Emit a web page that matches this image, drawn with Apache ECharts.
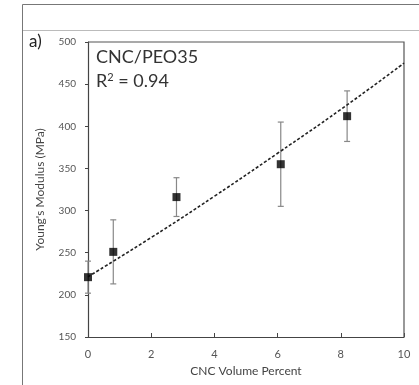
<!DOCTYPE html>
<html>
<head>
<meta charset="utf-8">
<script src="https://cdn.jsdelivr.net/npm/echarts@6/dist/echarts.min.js"></script>
<style>
html,body{margin:0;padding:0;background:#fff;}
#c{width:419px;height:385px;}
</style>
</head>
<body>
<div id="c"></div>
<script>
// Data
const xValues = [0, 0.8, 2.8, 6.1, 8.2];
const yValues = [221, 251, 316, 355, 412];
const yErrors = [19, 38, 23, 50, 30];
const trendX = [0, 2, 4, 6, 8, 10];
const trendY = [221.5, 268, 317, 368, 420, 475];
const xTicks = [0, 2, 4, 6, 8, 10];
const yTicks = [150, 200, 250, 300, 350, 400, 450, 500];

const chart = echarts.init(document.getElementById('c'), null, {renderer: 'canvas'});
const font = 'Lato, "Open Sans", sans-serif';

const errData = xValues.map((x, i) => [x, yValues[i] - yErrors[i], yValues[i] + yErrors[i]]);

chart.setOption({
  animation: false,
  backgroundColor: '#fff',
  grid: {left: 88, top: 42, width: 316, height: 295, show: false},
  graphic: [
    {type: 'line', shape: {x1: 22.5, y1: 4.5, x2: 419, y2: 4.5}, style: {stroke: '#777', lineWidth: 1}},
    {type: 'line', shape: {x1: 22.5, y1: 4.5, x2: 22.5, y2: 385}, style: {stroke: '#777', lineWidth: 1}},
    {type: 'line', shape: {x1: 23, y1: 30.5, x2: 419, y2: 30.5}, style: {stroke: '#bbb', lineWidth: 1}},
    {type: 'text', left: 29, top: 33, style: {text: 'a)', font: '17px ' + font, fill: '#222'}},
    {type: 'text', left: 96, top: 48, style: {text: 'CNC/PEO35', font: '18px ' + font, fill: '#333'}},
    {type: 'text', left: 96, top: 72, style: {rich: {
        n: {font: '18px ' + font, fill: '#333'},
        s: {font: '11px ' + font, fill: '#333', verticalAlign: 'top', padding: [0,0,8,0]}
      }, text: '{n|R}{s|2}{n| = 0.94}'}}
  ],
  xAxis: {
    type: 'value', min: 0, max: 10, interval: 2,
    name: 'CNC Volume Percent', nameLocation: 'middle', nameGap: 26,
    nameTextStyle: {color: '#444', fontSize: 12, fontFamily: font},
    axisLine: {show: true, lineStyle: {color: '#444', width: 1.2}},
    axisTick: {show: true, inside: true, length: 4, lineStyle: {color: '#444'}},
    axisLabel: {color: '#555', fontSize: 11, fontFamily: font, margin: 12},
    splitLine: {show: false}
  },
  yAxis: {
    type: 'value', min: 150, max: 500, interval: 50,
    name: "Young's Modulus (MPa)", nameLocation: 'middle', nameGap: 42,
    nameTextStyle: {color: '#444', fontSize: 12, fontFamily: font},
    axisLine: {show: true, lineStyle: {color: '#444', width: 1.2}},
    axisTick: {show: true, inside: false, length: 3, lineStyle: {color: '#444'}},
    axisLabel: {color: '#555', fontSize: 10, fontFamily: font, margin: 12},
    splitLine: {show: false}
  },
  series: [
    {
      type: 'line', data: trendX.map((x, i) => [x, trendY[i]]), smooth: true,
      showSymbol: false, symbol: 'none', z: 3,
      lineStyle: {color: '#222', width: 1.6, type: [3, 2]}
    },
    {
      type: 'custom', z: 2,
      renderItem: function (params, api) {
        const x = api.value(0);
        const lo = api.coord([x, api.value(1)]);
        const hi = api.coord([x, api.value(2)]);
        const c = 3;
        const st = {stroke: '#888', lineWidth: 1.2};
        return {type: 'group', children: [
          {type: 'line', shape: {x1: lo[0], y1: lo[1], x2: hi[0], y2: hi[1]}, style: st},
          {type: 'line', shape: {x1: lo[0]-c, y1: lo[1], x2: lo[0]+c, y2: lo[1]}, style: st},
          {type: 'line', shape: {x1: hi[0]-c, y1: hi[1], x2: hi[0]+c, y2: hi[1]}, style: st}
        ]};
      },
      encode: {x: 0, y: [1, 2]},
      data: errData
    },
    {
      type: 'scatter', z: 4,
      data: xValues.map((x, i) => [x, yValues[i]]),
      symbol: 'rect', symbolSize: 8,
      itemStyle: {color: '#000'}
    },
    {
      // plot frame (top/right borders) drawn via markLine-free approach: invisible helper
      type: 'line', data: [], silent: true
    }
  ]
});

// frame top and right edges
const tl = chart.convertToPixel({gridIndex: 0}, [0, 500]);
const br = chart.convertToPixel({gridIndex: 0}, [10, 150]);
chart.setOption({graphic: [
  {type: 'line', shape: {x1: 22.5, y1: 4.5, x2: 419, y2: 4.5}, style: {stroke: '#777', lineWidth: 1}},
  {type: 'line', shape: {x1: 22.5, y1: 4.5, x2: 22.5, y2: 385}, style: {stroke: '#777', lineWidth: 1}},
  {type: 'line', shape: {x1: 23, y1: 30.5, x2: 419, y2: 30.5}, style: {stroke: '#bbb', lineWidth: 1}},
  {type: 'text', left: 29, top: 33, style: {text: 'a)', font: '17px ' + font, fill: '#222'}},
  {type: 'text', left: 96, top: 48, style: {text: 'CNC/PEO35', font: '18px ' + font, fill: '#333'}},
  {type: 'text', left: 96, top: 72, style: {rich: {
      n: {font: '18px ' + font, fill: '#333'},
      s: {font: '11px ' + font, fill: '#333', verticalAlign: 'top', padding: [0,0,8,0]}
    }, text: '{n|R}{s|2}{n| = 0.94}'}},
  {type: 'polyline', shape: {points: [[tl[0], tl[1]], [br[0], tl[1]], [br[0], br[1]]]}, style: {stroke: '#555', lineWidth: 1.2, fill: null}, z: 1}
]}, {replaceMerge: ['graphic']});
</script>
</body>
</html>
